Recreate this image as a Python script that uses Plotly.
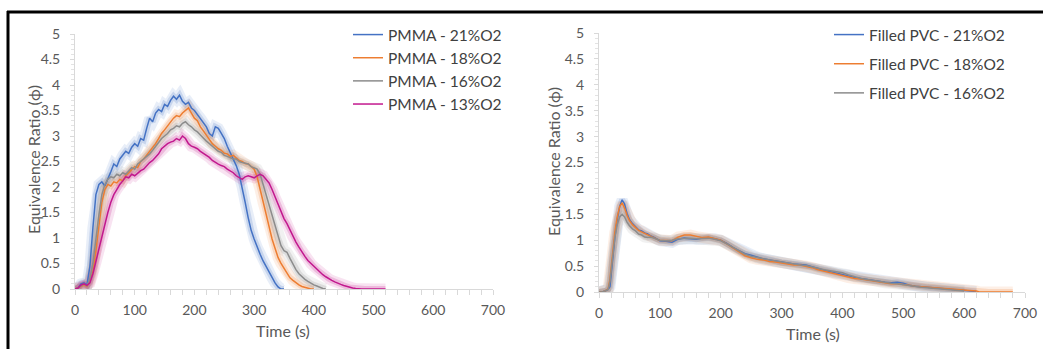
import plotly.graph_objects as go

# ---------------- data: PMMA (left) ----------------
t_pmma21 = list(range(0, 355, 5))
pmma21 = [0.00, 0.02, 0.10, 0.12, 0.08, 0.45, 1.20, 1.85, 2.05, 2.10,
          2.02, 2.15, 2.30, 2.45, 2.40, 2.55, 2.62, 2.70, 2.66, 2.78,
          2.85, 2.80, 2.95, 2.92, 3.15, 3.35, 3.28, 3.45, 3.52, 3.48,
          3.62, 3.58, 3.70, 3.78, 3.72, 3.80, 3.68, 3.62, 3.66, 3.55,
          3.50, 3.42, 3.35, 3.25, 3.18, 3.05, 3.00, 3.18, 3.15, 3.05,
          2.95, 2.80, 2.68, 2.55, 2.42, 2.25, 2.00, 1.70, 1.40, 1.15,
          0.98, 0.82, 0.68, 0.55, 0.44, 0.32, 0.22, 0.12, 0.04, 0.00,
          0.00]

t_pmma18 = list(range(0, 405, 5))
pmma18 = [0.00, 0.02, 0.05, 0.08, 0.05, 0.15, 0.35, 0.75, 1.25, 1.70,
          1.95, 2.05, 2.02, 2.10, 2.08, 2.15, 2.12, 2.22, 2.28, 2.35,
          2.40, 2.38, 2.50, 2.55, 2.62, 2.70, 2.78, 2.85, 2.95, 3.05,
          3.12, 3.20, 3.28, 3.35, 3.40, 3.38, 3.45, 3.50, 3.55, 3.45,
          3.35, 3.30, 3.18, 3.10, 3.02, 2.95, 2.85, 2.80, 2.75, 2.72,
          2.66, 2.65, 2.60, 2.62, 2.56, 2.52, 2.50, 2.46, 2.45, 2.40,
          2.35, 2.20, 1.95, 1.70, 1.45, 1.20, 0.98, 0.80, 0.62, 0.50,
          0.40, 0.30, 0.22, 0.17, 0.12, 0.08, 0.05, 0.03, 0.01, 0.00,
          0.00]

t_pmma16 = list(range(0, 425, 5))
pmma16 = [0.00, 0.02, 0.06, 0.10, 0.06, 0.20, 0.50, 1.00, 1.45, 1.85,
          2.05, 2.15, 2.20, 2.18, 2.25, 2.22, 2.28, 2.25, 2.32, 2.38,
          2.35, 2.45, 2.50, 2.55, 2.60, 2.65, 2.72, 2.80, 2.88, 2.95,
          3.00, 3.05, 3.12, 3.15, 3.20, 3.18, 3.25, 3.28, 3.22, 3.18,
          3.12, 3.08, 3.02, 2.95, 2.90, 2.85, 2.80, 2.76, 2.70, 2.68,
          2.62, 2.60, 2.58, 2.55, 2.55, 2.50, 2.48, 2.46, 2.45, 2.40,
          2.38, 2.35, 2.25, 2.05, 1.82, 1.60, 1.40, 1.20, 1.00, 0.85,
          0.75, 0.72, 0.60, 0.48, 0.38, 0.30, 0.24, 0.19, 0.15, 0.11,
          0.08, 0.06, 0.03, 0.01, 0.00]

t_pmma13 = list(range(0, 525, 5))
pmma13 = [0.00, 0.02, 0.08, 0.10, 0.07, 0.12, 0.30, 0.55, 0.80, 1.00,
          1.25, 1.50, 1.70, 1.85, 1.95, 2.05, 2.12, 2.20, 2.18, 2.25,
          2.22, 2.28, 2.32, 2.35, 2.42, 2.48, 2.52, 2.58, 2.65, 2.75,
          2.80, 2.85, 2.88, 2.90, 2.95, 2.92, 3.00, 2.95, 2.85, 2.80,
          2.78, 2.75, 2.70, 2.66, 2.62, 2.58, 2.52, 2.48, 2.45, 2.42,
          2.40, 2.35, 2.32, 2.28, 2.22, 2.18, 2.15, 2.20, 2.22, 2.20,
          2.18, 2.22, 2.25, 2.22, 2.15, 2.08, 1.95, 1.80, 1.65, 1.50,
          1.38, 1.28, 1.15, 1.02, 0.92, 0.82, 0.72, 0.64, 0.56, 0.50,
          0.44, 0.38, 0.33, 0.28, 0.24, 0.20, 0.17, 0.14, 0.11, 0.09,
          0.07, 0.05, 0.03, 0.02, 0.01, 0.00, 0.00, 0.00, 0.00, 0.00,
          0.00, 0.00, 0.00, 0.00, 0.00]

# ---------------- data: Filled PVC (right) ----------------
t_pvc_head = [0, 5, 10, 15, 18, 22, 26, 30, 34, 38, 42, 46, 50, 55, 60,
              65, 70, 75, 80, 85, 90, 95, 100]
t_pvc21 = t_pvc_head + list(range(110, 630, 10))
pvc21 = [0.00, 0.00, 0.02, 0.05, 0.10, 0.60, 1.05, 1.40, 1.65, 1.78,
         1.70, 1.52, 1.40, 1.32, 1.26, 1.20, 1.18, 1.14, 1.12, 1.08,
         1.06, 1.02, 0.99,
         0.98, 0.96, 1.02, 1.04, 1.03, 1.02, 1.04, 1.05, 1.03, 1.00,
         0.94, 0.86, 0.80, 0.74, 0.71, 0.67, 0.64, 0.62, 0.60, 0.57,
         0.56, 0.54, 0.53, 0.52, 0.49, 0.45, 0.42, 0.39, 0.36, 0.34,
         0.31, 0.28, 0.26, 0.24, 0.22, 0.20, 0.19, 0.18, 0.19, 0.17,
         0.13, 0.11, 0.10, 0.09, 0.08, 0.07, 0.07, 0.06, 0.04, 0.03,
         0.02, 0.01]

t_pvc18 = t_pvc_head + list(range(110, 630, 10)) + [625, 640, 660, 680]
pvc18 = [0.00, 0.00, 0.02, 0.06, 0.25, 0.75, 1.15, 1.45, 1.65, 1.72,
         1.62, 1.48, 1.38, 1.30, 1.24, 1.19, 1.16, 1.13, 1.10, 1.07,
         1.04, 1.02, 1.00,
         1.00, 0.99, 1.06, 1.10, 1.10, 1.07, 1.05, 1.06, 1.03, 1.00,
         0.93, 0.85, 0.77, 0.70, 0.66, 0.63, 0.62, 0.59, 0.58, 0.56,
         0.54, 0.52, 0.52, 0.50, 0.47, 0.43, 0.40, 0.37, 0.34, 0.32,
         0.28, 0.26, 0.25, 0.23, 0.21, 0.19, 0.17, 0.16, 0.16, 0.15,
         0.13, 0.11, 0.10, 0.09, 0.08, 0.07, 0.06, 0.05, 0.04, 0.03,
         0.02, 0.02, 0.00, 0.00, 0.00, 0.00]

t_pvc16 = t_pvc_head + list(range(110, 610, 10))
pvc16 = [0.00, 0.00, 0.02, 0.05, 0.20, 0.65, 1.05, 1.30, 1.45, 1.50,
         1.45, 1.35, 1.28, 1.22, 1.18, 1.12, 1.10, 1.06, 1.05, 1.06,
         1.04, 1.02, 1.00,
         0.99, 1.00, 1.03, 1.04, 1.04, 1.03, 1.03, 1.04, 1.02, 0.99,
         0.93, 0.86, 0.79, 0.73, 0.69, 0.66, 0.64, 0.62, 0.60, 0.57,
         0.55, 0.54, 0.52, 0.51, 0.48, 0.45, 0.43, 0.41, 0.39, 0.37,
         0.33, 0.29, 0.26, 0.24, 0.22, 0.20, 0.18, 0.17, 0.16, 0.14,
         0.12, 0.10, 0.09, 0.08, 0.07, 0.06, 0.06, 0.05, 0.03, 0.02]

pmma_labels = ["PMMA - 21%O2", "PMMA - 18%O2", "PMMA - 16%O2", "PMMA - 13%O2"]
pvc_labels = ["Filled PVC - 21%O2", "Filled PVC - 18%O2", "Filled PVC - 16%O2"]
x_ticks = [0, 100, 200, 300, 400, 500, 600, 700]
y_ticks = [0, 0.5, 1, 1.5, 2, 2.5, 3, 3.5, 4, 4.5, 5]
y_ticklabels = ["0", "0.5", "1", "1.5", "2", "2.5", "3", "3.5", "4", "4.5", "5"]

# ---------------- styling ----------------
BLUE = (68, 114, 196)
ORANGE = (237, 125, 49)
GRAY = (140, 140, 140)
MAGENTA = (194, 24, 142)

def rgb(c, a=1.0):
    return f"rgba({c[0]},{c[1]},{c[2]},{a})"

W, H = 1043, 349
FONT = "Lato, 'Open Sans', sans-serif"
TICKC = "#595959"

fig = go.Figure()

left_series = [(t_pmma21, pmma21, BLUE), (t_pmma18, pmma18, ORANGE),
               (t_pmma16, pmma16, GRAY), (t_pmma13, pmma13, MAGENTA)]
right_series = [(t_pvc21, pvc21, BLUE), (t_pvc18, pvc18, ORANGE),
                (t_pvc16, pvc16, GRAY)]

def add_group(series, labels, xa, ya, legend):
    # soft halo (variability band look)
    for (tx, vy, c) in series:
        fig.add_trace(go.Scatter(x=tx, y=vy, mode="lines", xaxis=xa, yaxis=ya,
                                 line=dict(color=rgb(c, 0.12), width=11),
                                 showlegend=False, hoverinfo="skip"))
        fig.add_trace(go.Scatter(x=tx, y=vy, mode="lines", xaxis=xa, yaxis=ya,
                                 line=dict(color=rgb(c, 0.2), width=6),
                                 showlegend=False, hoverinfo="skip"))
    for i, ((tx, vy, c), lab) in enumerate(zip(series, labels)):
        fig.add_trace(go.Scatter(x=tx, y=vy, mode="lines", xaxis=xa, yaxis=ya,
                                 name=lab, legend=legend, legendgroup=lab,
                                 line=dict(color=rgb(c), width=1.5)))

add_group(left_series, pmma_labels, "x", "y", "legend")
add_group(right_series, pvc_labels, "x2", "y2", "legend2")

def xaxis_cfg(d0, d1, anchor):
    return dict(domain=[d0 / W, d1 / W], range=[0, 700], anchor=anchor,
                automargin=False,
                tickvals=x_ticks, ticktext=[str(v) for v in x_ticks],
                showline=True, linecolor="#d9d9d9", linewidth=1,
                ticks="outside", ticklen=5, tickcolor="#d9d9d9",
                ticklabelstandoff=3,
                minor=dict(dtick=20, ticks="outside", ticklen=5, tickcolor="#d9d9d9"),
                showgrid=False, zeroline=False,
                tickfont=dict(family=FONT, size=14, color=TICKC))

def yaxis_cfg(p0, p1, anchor):
    return dict(domain=[1 - p0 / H, 1 - p1 / H], range=[0, 5], anchor=anchor,
                automargin=False,
                tickvals=y_ticks, ticktext=y_ticklabels,
                showline=True, linecolor="#d9d9d9", linewidth=1,
                ticks="outside", ticklen=4, tickcolor="#d9d9d9",
                ticklabelstandoff=7,
                minor=dict(dtick=0.1, ticks="outside", ticklen=3, tickcolor="#e3e3e3"),
                showgrid=False, zeroline=False,
                tickfont=dict(family=FONT, size=14, color=TICKC))

fig.update_layout(
    template="none",
    width=W, height=H,
    margin=dict(l=0, r=0, t=0, b=0, pad=0, autoexpand=False),
    paper_bgcolor="white", plot_bgcolor="white",
    xaxis=xaxis_cfg(75, 493, "y"),
    yaxis=yaxis_cfg(289, 34, "x"),
    xaxis2=xaxis_cfg(599, 1025, "y2"),
    yaxis2=yaxis_cfg(292, 33, "x2"),
    legend=dict(x=348 / W, y=1 - 18 / H, xanchor="left", yanchor="top",
                bgcolor="rgba(0,0,0,0)", borderwidth=0, tracegroupgap=0,
                font=dict(family=FONT, size=15.5, color="#404040")),
    legend2=dict(x=829 / W, y=1 - 18 / H, xanchor="left", yanchor="top",
                 bgcolor="rgba(0,0,0,0)", borderwidth=0, tracegroupgap=6,
                 font=dict(family=FONT, size=15.5, color="#404040")),
    showlegend=True,
)

# axis titles
title_font = dict(family=FONT, size=16, color=TICKC)
fig.add_annotation(text="Equivalence Ratio (\u03d5)", textangle=-90, xref="paper", yref="paper",
                   x=33 / W, y=1 - 160 / H, xanchor="center", yanchor="middle",
                   showarrow=False, font=title_font)
fig.add_annotation(text="Equivalence Ratio (\u03d5)", textangle=-90, xref="paper", yref="paper",
                   x=553 / W, y=1 - 162 / H, xanchor="center", yanchor="middle",
                   showarrow=False, font=title_font)
fig.add_annotation(text="Time (s)", xref="paper", yref="paper",
                   x=283 / W, y=1 - 330 / H, xanchor="center", yanchor="middle",
                   showarrow=False, font=title_font)
fig.add_annotation(text="Time (s)", xref="paper", yref="paper",
                   x=813 / W, y=1 - 333 / H, xanchor="center", yanchor="middle",
                   showarrow=False, font=title_font)

# black frame (top and left edges)
fig.add_shape(type="line", xref="paper", yref="paper",
              x0=7 / W, x1=1, y0=1 - 12 / H, y1=1 - 12 / H,
              line=dict(color="black", width=3))
fig.add_shape(type="line", xref="paper", yref="paper",
              x0=8 / W, x1=8 / W, y0=1 - 11 / H, y1=0,
              line=dict(color="black", width=3))

fig.write_html("out.html",
               post_script="document.body.style.margin='0';")
